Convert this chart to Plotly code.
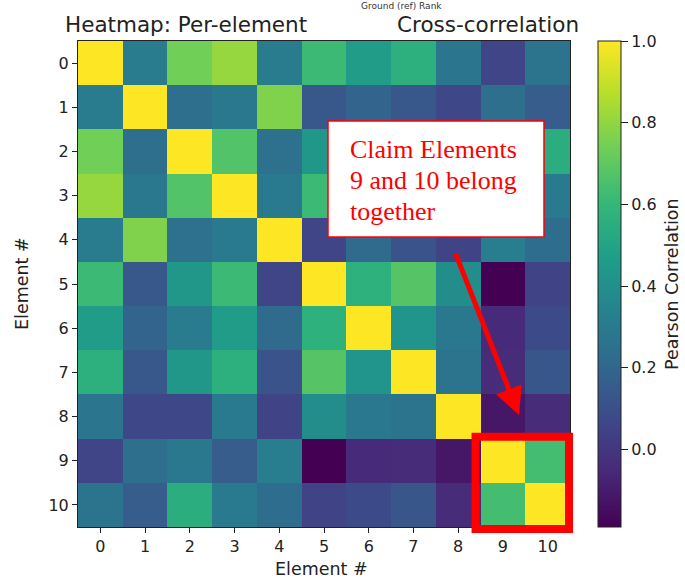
import plotly.graph_objects as go

# ---- data ----
elements = list(range(11))
tick_labels = [str(i) for i in elements]

row0 = [1.00, 0.31, 0.74, 0.81, 0.31, 0.62, 0.46, 0.56, 0.28, 0.06, 0.27]
row1 = [0.31, 1.00, 0.24, 0.29, 0.77, 0.14, 0.19, 0.14, 0.07, 0.24, 0.16]
row2 = [0.74, 0.24, 1.00, 0.67, 0.25, 0.44, 0.31, 0.44, 0.07, 0.29, 0.55]
row3 = [0.81, 0.29, 0.67, 1.00, 0.30, 0.62, 0.46, 0.56, 0.30, 0.16, 0.30]
row4 = [0.31, 0.77, 0.25, 0.30, 1.00, 0.06, 0.22, 0.12, 0.05, 0.32, 0.23]
row5 = [0.62, 0.14, 0.44, 0.62, 0.06, 1.00, 0.57, 0.68, 0.39, -0.19, 0.05]
row6 = [0.46, 0.19, 0.31, 0.46, 0.22, 0.57, 1.00, 0.43, 0.29, -0.05, 0.08]
row7 = [0.56, 0.14, 0.44, 0.56, 0.12, 0.68, 0.43, 1.00, 0.27, -0.04, 0.13]
row8 = [0.28, 0.07, 0.07, 0.30, 0.05, 0.39, 0.29, 0.27, 1.00, -0.12, -0.04]
row9 = [0.06, 0.24, 0.29, 0.16, 0.32, -0.19, -0.05, -0.04, -0.12, 1.00, 0.64]
row10 = [0.27, 0.16, 0.55, 0.30, 0.23, 0.05, 0.08, 0.13, -0.04, 0.64, 1.00]
corr = [row0, row1, row2, row3, row4, row5, row6, row7, row8, row9, row10]

highlight = [9, 10]
cbar_ticks = [0.0, 0.2, 0.4, 0.6, 0.8, 1.0]

# ---- layout geometry (pixels) ----
W, H = 685, 581
L, R, T, B = 78, 570, 41, 527
n = len(elements)


def px_x(px):
    return (px - L) / (R - L)


def px_y(py):
    return 1 - (py - T) / (B - T)


def dx(d):  # data x -> pixel x
    return L + (d + 0.5) * (R - L) / n


def dy(d):  # data y -> pixel y (reversed axis)
    return T + (d + 0.5) * (B - T) / n


FONT = "DejaVu Sans"
SERIF = "Liberation Serif"
RED = "#ff0000"
INK = "#222"

fig = go.Figure(
    go.Heatmap(
        z=corr,
        x=elements,
        y=elements,
        colorscale="Viridis",
        showscale=True,
        colorbar=dict(
            thickness=23,
            thicknessmode="pixels",
            len=1,
            lenmode="fraction",
            x=px_x(598),
            xanchor="left",
            y=0.5,
            yanchor="middle",
            xpad=0,
            ypad=0,
            outlinewidth=1,
            outlinecolor=INK,
            tickvals=cbar_ticks,
            ticktext=[f"{v:.1f}" for v in cbar_ticks],
            ticks="outside",
            ticklen=7,
            tickcolor=INK,
            tickfont=dict(family=FONT, size=16, color=INK),
        ),
        hoverinfo="skip",
    )
)

axis_common = dict(
    showline=True, mirror=True, linecolor=INK, linewidth=1,
    ticks="outside", ticklen=5, tickwidth=1, tickcolor=INK,
    tickfont=dict(family=FONT, size=16, color=INK),
    showgrid=False, zeroline=False, automargin=False,
    tickvals=elements, ticktext=tick_labels,
)

fig.update_layout(
    width=W, height=H,
    margin=dict(l=L, r=W - R, t=T, b=H - B),
    paper_bgcolor="white",
    plot_bgcolor="white",
    xaxis=dict(range=[-0.5, n - 0.5], **axis_common),
    yaxis=dict(range=[n - 0.5, -0.5], **axis_common),
    font=dict(family=FONT, color=INK),
)

# highlight box around elements 9 and 10
hx0 = dx(min(highlight) - 0.5) - 5
hx1 = dx(max(highlight) + 0.5) - 1
hy0 = dy(min(highlight) - 0.5) - 2
hy1 = dy(max(highlight) + 0.5) + 2
fig.add_shape(type="rect", xref="paper", yref="paper",
              x0=px_x(hx0), x1=px_x(hx1), y0=px_y(hy0), y1=px_y(hy1),
              line=dict(color=RED, width=8), fillcolor="rgba(0,0,0,0)")

# annotation box
fig.add_shape(type="rect", xref="paper", yref="paper",
              x0=px_x(328), x1=px_x(544), y0=px_y(121), y1=px_y(237),
              line=dict(color=RED, width=1.5), fillcolor="white")

for txt, yy in [("Claim Elements", 149), ("9 and 10 belong", 180), ("together", 211)]:
    fig.add_annotation(x=px_x(348), y=px_y(yy), xref="paper", yref="paper",
                       text=txt, showarrow=False, xanchor="left", yanchor="middle",
                       font=dict(family=SERIF, size=26, color=RED))

# arrow
tip_x, tip_y = 519, 415
tail_x, tail_y = 455, 252
fig.add_annotation(x=px_x(tip_x), y=px_y(tip_y), xref="paper", yref="paper",
                   ax=tail_x - tip_x, ay=tail_y - tip_y, axref="pixel", ayref="pixel",
                   showarrow=True, arrowhead=2, arrowsize=1.1, arrowwidth=5,
                   arrowcolor=RED, text="", standoff=0)

# titles
fig.add_annotation(x=px_x(64), y=px_y(25), xref="paper", yref="paper",
                   text="Heatmap: Per-element", showarrow=False,
                   xanchor="left", yanchor="middle", borderpad=0,
                   font=dict(family=FONT, size=21.5, color=INK))
fig.add_annotation(x=px_x(580), y=px_y(25), xref="paper", yref="paper",
                   text="Cross-correlation", showarrow=False,
                   xanchor="right", yanchor="middle", borderpad=0,
                   font=dict(family=FONT, size=21.5, color=INK))
fig.add_annotation(x=px_x(401), y=px_y(0), xref="paper", yref="paper",
                   text="Ground (ref) Rank", showarrow=False,
                   xanchor="center", yanchor="top", borderpad=0,
                   font=dict(family=FONT, size=9, color="#333"))

# axis labels
fig.add_annotation(x=px_x(321), y=px_y(569), xref="paper", yref="paper",
                   text="Element #", showarrow=False,
                   xanchor="center", yanchor="middle",
                   font=dict(family=FONT, size=17.5, color=INK))
fig.add_annotation(x=px_x(22), y=px_y(284), xref="paper", yref="paper",
                   text="Element #", showarrow=False, textangle=-90,
                   xanchor="center", yanchor="middle",
                   font=dict(family=FONT, size=17.5, color=INK))
fig.add_annotation(x=px_x(672), y=px_y(284), xref="paper", yref="paper",
                   text="Pearson Correlation", showarrow=False, textangle=-90,
                   xanchor="center", yanchor="middle",
                   font=dict(family=FONT, size=17.5, color=INK))

fig.write_html(
    "out.html",
    config={"displayModeBar": False},
    post_script="document.body.style.margin='0';document.body.style.padding='0';",
)
